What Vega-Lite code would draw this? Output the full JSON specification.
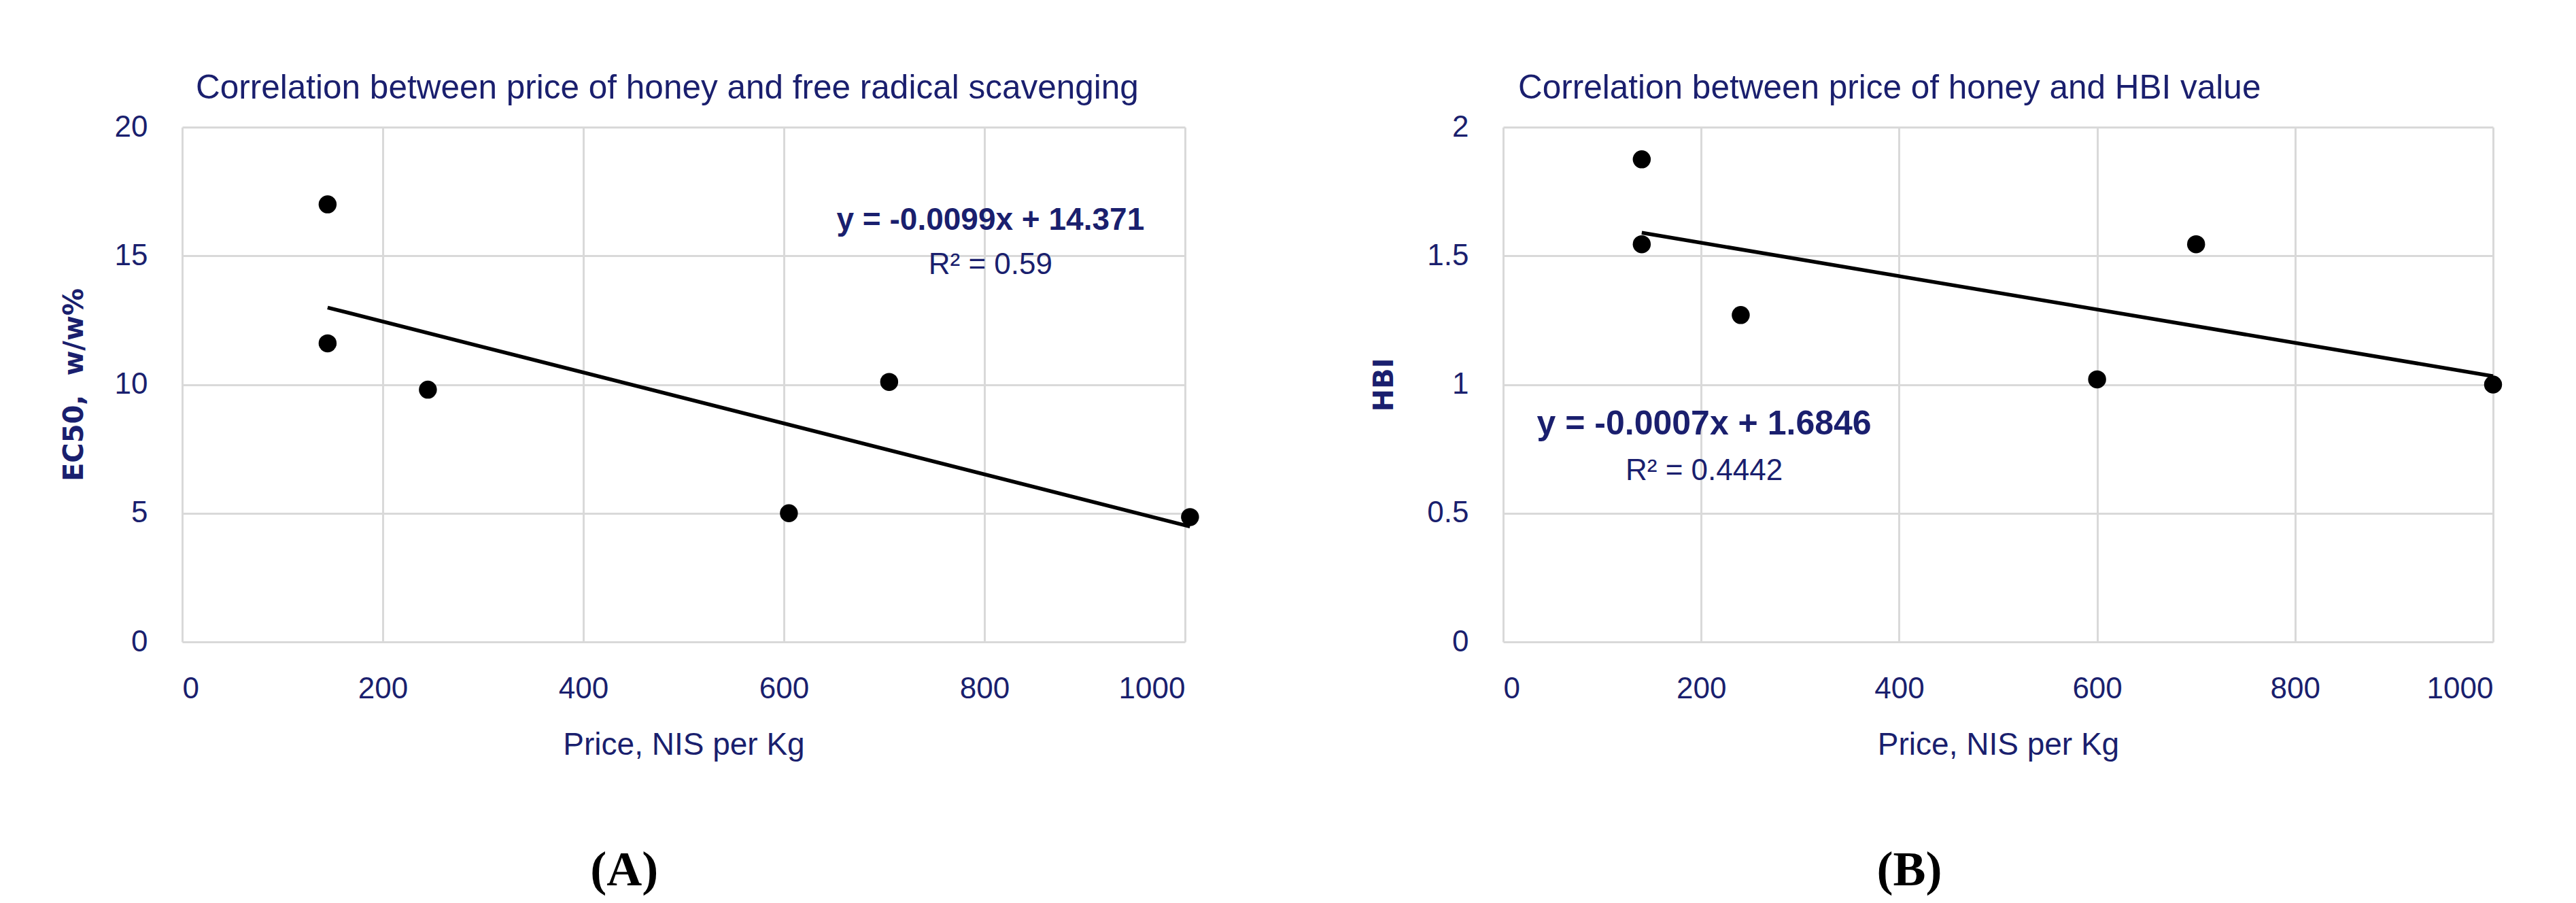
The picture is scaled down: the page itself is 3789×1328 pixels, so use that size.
{
  "$schema": "https://vega.github.io/schema/vega-lite/v6.json",
  "background": "white",
  "padding": {"left": 89, "top": 104, "right": 10, "bottom": 10},
  "datasets": {
    "ec50": [
      {"price": 145, "ec50": 17.0},
      {"price": 145, "ec50": 11.6},
      {"price": 245, "ec50": 9.8},
      {"price": 605, "ec50": 5.0},
      {"price": 705, "ec50": 10.1},
      {"price": 1005, "ec50": 4.85}
    ],
    "hbi": [
      {"price": 140, "hbi": 1.875},
      {"price": 140, "hbi": 1.545},
      {"price": 240, "hbi": 1.27},
      {"price": 600, "hbi": 1.02},
      {"price": 700, "hbi": 1.545},
      {"price": 1000, "hbi": 1.0}
    ],
    "fits": [
      {"panel": "A", "equation": "y = -0.0099x + 14.371", "r2": "R² = 0.59"},
      {"panel": "B", "equation": "y = -0.0007x + 1.6846", "r2": "R² = 0.4442"}
    ]
  },
  "config": {
    "view": {"stroke": null},
    "font": "Liberation Sans",
    "axis": {
      "grid": true,
      "gridColor": "#D9D9D9",
      "gridWidth": 3,
      "domain": false,
      "ticks": false,
      "labelFont": "Liberation Sans",
      "labelFontSize": 44,
      "labelColor": "#1A1F6E",
      "titleColor": "#1A1F6E",
      "labelFontWeight": "normal"
    },
    "axisX": {"labelPadding": 47, "titleFont": "Liberation Sans", "titleFontSize": 46, "titleFontWeight": "normal", "titlePadding": 38},
    "axisY": {"labelPadding": 51, "titleFont": "DejaVu Sans", "titleFontWeight": "bold", "titleFontSize": 40, "titlePadding": 39},
    "title": {"font": "Liberation Sans", "fontSize": 49.5, "fontWeight": "normal", "color": "#1A1F6E", "anchor": "start", "frame": "group", "dx": 20, "offset": 10}
  },
  "spacing": 252,
  "hconcat": [
    {
      "title": {"text": "(A)", "orient": "bottom", "anchor": "middle", "frame": "bounds", "font": "Liberation Serif", "fontSize": 72, "fontWeight": "bold", "color": "black", "dx": -8, "offset": 127},
      "vconcat": [
        {
          "width": 1475,
          "height": 757,
          "title": {"text": "Correlation between price of honey and free radical scavenging"},
          "layer": [
            {
              "data": {"name": "ec50"},
              "mark": {"type": "point", "filled": true, "size": 700, "color": "black", "opacity": 1},
              "encoding": {
                "x": {"field": "price", "type": "quantitative", "scale": {"domain": [0, 1000]}, "axis": {"values": [0, 200, 400, 600, 800, 1000], "format": "d", "title": "Price, NIS per Kg"}},
                "y": {"field": "ec50", "type": "quantitative", "scale": {"domain": [0, 20]}, "axis": {"values": [0, 5, 10, 15, 20], "title": "EC50,\u00a0 w/w%"}}
              }
            },
            {
              "data": {"name": "ec50"},
              "transform": [{"regression": "ec50", "on": "price"}],
              "mark": {"type": "line", "color": "black", "strokeWidth": 5.5},
              "encoding": {
                "x": {"field": "price", "type": "quantitative"},
                "y": {"field": "ec50", "type": "quantitative"}
              }
            },
            {
              "data": {"name": "fits"},
              "transform": [{"filter": "datum.panel === 'A'"}],
              "mark": {"type": "text", "font": "Liberation Sans", "fontSize": 46, "fontWeight": "bold", "color": "#1A1F6E", "baseline": "alphabetic", "align": "center"},
              "encoding": {
                "x": {"datum": 806},
                "y": {"datum": 16.0},
                "text": {"field": "equation"}
              }
            },
            {
              "data": {"name": "fits"},
              "transform": [{"filter": "datum.panel === 'A'"}],
              "mark": {"type": "text", "font": "Liberation Sans", "fontSize": 44, "fontWeight": "normal", "color": "#1A1F6E", "baseline": "alphabetic", "align": "center"},
              "encoding": {
                "x": {"datum": 806},
                "y": {"datum": 14.29},
                "text": {"field": "r2"}
              }
            }
          ]
        }
      ]
    },
    {
      "title": {"text": "(B)", "orient": "bottom", "anchor": "middle", "frame": "bounds", "font": "Liberation Serif", "fontSize": 72, "fontWeight": "bold", "color": "black", "dx": -40, "offset": 127},
      "vconcat": [
        {
          "width": 1456,
          "height": 757,
          "title": {"text": "Correlation between price of honey and HBI value", "dx": 22},
          "layer": [
            {
              "data": {"name": "hbi"},
              "mark": {"type": "point", "filled": true, "size": 700, "color": "black", "opacity": 1},
              "encoding": {
                "x": {"field": "price", "type": "quantitative", "scale": {"domain": [0, 1000]}, "axis": {"values": [0, 200, 400, 600, 800, 1000], "format": "d", "title": "Price, NIS per Kg"}},
                "y": {"field": "hbi", "type": "quantitative", "scale": {"domain": [0, 2]}, "axis": {"values": [0, 0.5, 1, 1.5, 2], "format": "~g", "title": "HBI", "titlePadding": 42}}
              }
            },
            {
              "data": {"name": "hbi"},
              "transform": [{"regression": "hbi", "on": "price"}],
              "mark": {"type": "line", "color": "black", "strokeWidth": 5.5},
              "encoding": {
                "x": {"field": "price", "type": "quantitative"},
                "y": {"field": "hbi", "type": "quantitative"}
              }
            },
            {
              "data": {"name": "fits"},
              "transform": [{"filter": "datum.panel === 'B'"}],
              "mark": {"type": "text", "font": "Liberation Sans", "fontSize": 50, "fontWeight": "bold", "color": "#1A1F6E", "baseline": "alphabetic", "align": "center"},
              "encoding": {
                "x": {"datum": 203},
                "y": {"datum": 0.806},
                "text": {"field": "equation"}
              }
            },
            {
              "data": {"name": "fits"},
              "transform": [{"filter": "datum.panel === 'B'"}],
              "mark": {"type": "text", "font": "Liberation Sans", "fontSize": 44, "fontWeight": "normal", "color": "#1A1F6E", "baseline": "alphabetic", "align": "center"},
              "encoding": {
                "x": {"datum": 203},
                "y": {"datum": 0.629},
                "text": {"field": "r2"}
              }
            }
          ]
        }
      ]
    }
  ]
}
